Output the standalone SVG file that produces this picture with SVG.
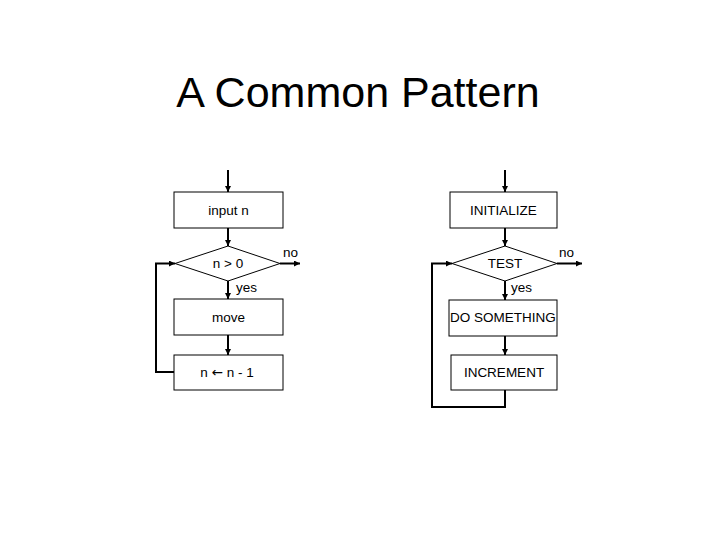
<svg xmlns="http://www.w3.org/2000/svg" width="720" height="540" viewBox="0 0 720 540">
<defs>
<marker id="ah" viewBox="0 0 10 10" refX="10" refY="5" markerWidth="3" markerHeight="3" orient="auto" markerUnits="strokeWidth">
<path d="M0,0 L10,5 L0,10 z" fill="#000"/>
</marker>
<style>
.box{fill:#fff;stroke:#000;stroke-width:1}
.c{fill:none;stroke:#000;stroke-width:2;marker-end:url(#ah)}
text{font-family:"Liberation Sans",Arial,sans-serif;fill:#000}
.t{font-size:13.5px;text-anchor:middle}
.l{font-size:13.5px}
.arr{font-family:"DejaVu Sans",sans-serif}
</style>
</defs>
<rect width="720" height="540" fill="#fff"/>
<text x="358" y="107" font-size="43" text-anchor="middle">A Common Pattern</text>

<g id="connectors">
<path class="c" d="M228,170 V192"/>
<path class="c" d="M228,228 V246"/>
<path class="c" d="M280,263.5 H300"/>
<path class="c" d="M228,281 V299"/>
<path class="c" d="M228,335 V355"/>
<path class="c" d="M174,372 H156 V263.5 H175"/>
<path class="c" d="M505,170 V192"/>
<path class="c" d="M505,228 V246"/>
<path class="c" d="M557,263.5 H582"/>
<path class="c" d="M505,281 V300"/>
<path class="c" d="M505,336 V355"/>
<path class="c" d="M505,390 V407 H432 V263.5 H452"/>
<text class="l" x="283" y="257">no</text>
<text class="l" x="559" y="257">no</text>
<text class="l" x="236" y="292">yes</text>
<text class="l" x="511" y="292">yes</text>
</g>

<g id="input-n"><rect class="box" x="174" y="192" width="109" height="36"/><text class="t" x="228.5" y="215">input n</text></g>
<g id="cond-n-gt-0"><polygon class="box" points="228,246 280,263.5 228,281 175,263.5"/><text class="t" x="228" y="268">n &gt; 0</text></g>
<g id="move"><rect class="box" x="174" y="299" width="109" height="36"/><text class="t" x="228.5" y="322">move</text></g>
<g id="decrement"><rect class="box" x="174" y="355" width="109" height="35"/><text class="t" x="227" y="377">n <tspan class="arr">←</tspan> n - 1</text></g>

<g id="initialize"><rect class="box" x="450" y="192" width="107" height="36"/><text class="t" x="503.5" y="215">INITIALIZE</text></g>
<g id="test"><polygon class="box" points="505,246 557,263.5 505,281 452,263.5"/><text class="t" x="505" y="268">TEST</text></g>
<g id="do-something"><rect class="box" x="449" y="300" width="108" height="36"/><text class="t" x="503" y="322">DO SOMETHING</text></g>
<g id="increment"><rect class="box" x="451" y="355" width="106" height="35"/><text class="t" x="504" y="377">INCREMENT</text></g>
</svg>
